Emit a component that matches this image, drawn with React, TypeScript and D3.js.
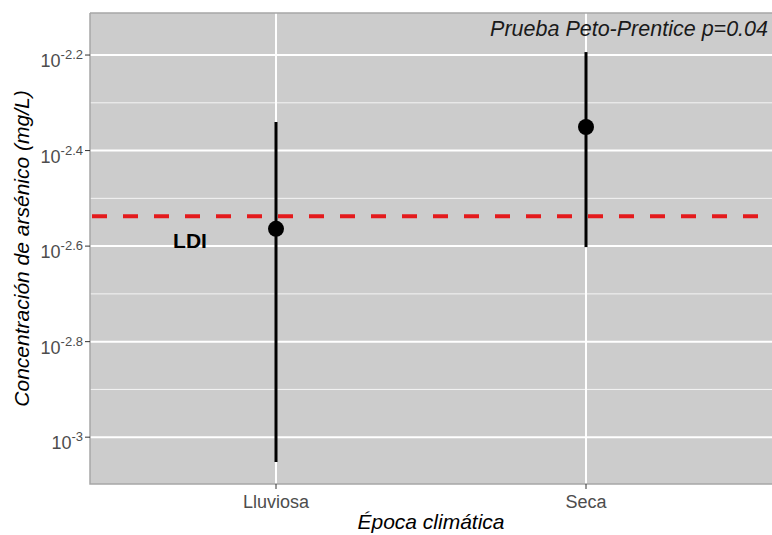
import * as d3 from 'd3'

const categories = ['Lluviosa', 'Seca']
const estimates = [0.00273, 0.00446]
const lower = [0.000887, 0.0025]
const upper = [0.00457, 0.0064]
const ldi = 0.0029
const majorExponents = [-3, -2.8, -2.6, -2.4, -2.2]
const minorExponents = [-2.9, -2.7, -2.5, -2.3]

const width = 772
const height = 535
const left = 90
const right = 772
const top = 13
const bottom = 484

const font = '"Liberation Sans", Arial, sans-serif'

const y = d3
  .scaleLog()
  .domain([Math.pow(10, -3.098), Math.pow(10, -2.112)])
  .range([bottom, top])

// ggplot-like discrete expansion: 0.6 of a step on each side
const x = d3.scalePoint().domain(categories).range([left, right]).padding(0.6)

function App() {
  return (
    <svg
      width={width}
      height={height}
      style={{ position: 'absolute', left: 0, top: 0, fontFamily: font }}
    >
      <rect x={0} y={0} width={width} height={height} fill="#fff" />
      <rect x={left} y={top} width={right - left} height={bottom - top} fill="#cccccc" />
      {minorExponents.map((e) => (
        <line
          key={'mn' + e}
          x1={left}
          x2={right}
          y1={y(Math.pow(10, e))}
          y2={y(Math.pow(10, e))}
          stroke="#fff"
          strokeWidth={1}
          opacity={0.8}
        />
      ))}
      {majorExponents.map((e) => (
        <line
          key={'mj' + e}
          x1={left}
          x2={right}
          y1={y(Math.pow(10, e))}
          y2={y(Math.pow(10, e))}
          stroke="#fff"
          strokeWidth={2}
        />
      ))}
      {categories.map((c) => (
        <line key={'vx' + c} x1={x(c)} x2={x(c)} y1={top} y2={bottom} stroke="#fff" strokeWidth={2} />
      ))}
      <path
        d={`M${left},${top}V${bottom}H${right}M${left},${top}H${right}`}
        fill="none"
        stroke="#a6a6a6"
        strokeWidth={1.5}
      />
      {/* LDI line */}
      <line
        x1={left}
        x2={right}
        y1={y(ldi)}
        y2={y(ldi)}
        stroke="#e41a1c"
        strokeWidth={4}
        strokeDasharray="15,16"
        strokeDashoffset={-2}
      />
      <text x={190} y={248} textAnchor="middle" fontSize={21} fontWeight="bold" fill="#000">
        LDI
      </text>
      {categories.map((c, i) => (
        <g key={'pt' + c}>
          <line x1={x(c)} x2={x(c)} y1={y(lower[i])} y2={y(upper[i])} stroke="#000" strokeWidth={3} />
          <circle cx={x(c)} cy={y(estimates[i])} r={8} fill="#000" />
        </g>
      ))}
      {/* y axis */}
      {majorExponents.map((e) => {
        const yy = y(Math.pow(10, e))
        return (
          <g key={'yt' + e}>
            <line x1={left - 5} x2={left} y1={yy} y2={yy} stroke="#333" strokeWidth={1} />
            <text x={left - 7} y={yy + 12} textAnchor="end" fontSize={18} fill="#4d4d4d">
              10
              <tspan fontSize={13} dy={-8}>
                {String(e)}
              </tspan>
            </text>
          </g>
        )
      })}
      {/* x axis */}
      {categories.map((c) => (
        <g key={'xt' + c}>
          <line x1={x(c)} x2={x(c)} y1={bottom} y2={bottom + 5} stroke="#333" strokeWidth={1} />
          <text x={x(c)} y={bottom + 24} textAnchor="middle" fontSize={18} fill="#4d4d4d">
            {c}
          </text>
        </g>
      ))}
      <text
        x={(left + right) / 2}
        y={529}
        textAnchor="middle"
        fontSize={21}
        fontStyle="italic"
        fill="#000"
      >
        Época climática
      </text>
      <text
        transform={`translate(29,${(top + bottom) / 2}) rotate(-90)`}
        textAnchor="middle"
        fontSize={21}
        fontStyle="italic"
        fill="#000"
      >
        Concentración de arsénico (mg/L)
      </text>
      <text x={768} y={36} textAnchor="end" fontSize={21.5} fontStyle="italic" fill="#1a1a1a">
        Prueba Peto-Prentice p=0.04
      </text>
    </svg>
  )
}

export default App
